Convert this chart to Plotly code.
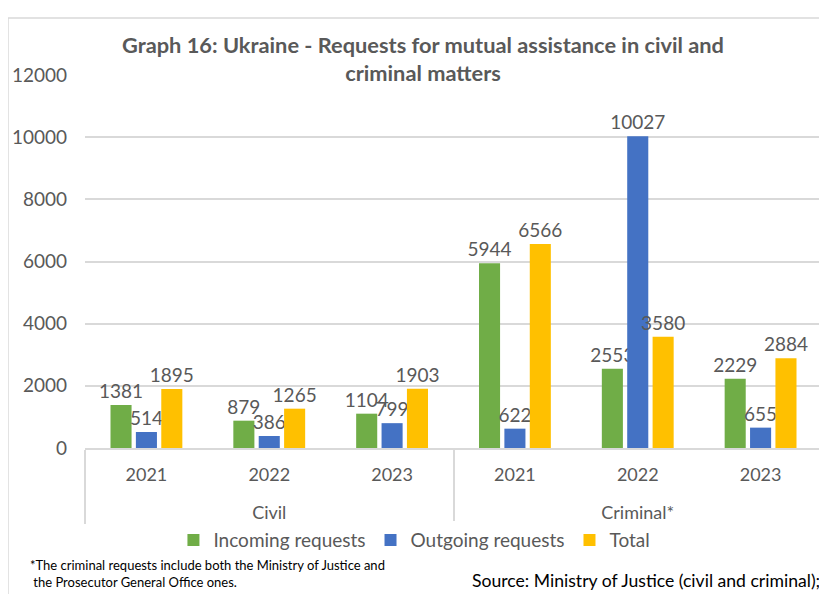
import plotly.graph_objects as go

groups = ["Civil", "Civil", "Civil", "Criminal*", "Criminal*", "Criminal*"]
years = ["2021", "2022", "2023", "2021", "2022", "2023"]
incoming = [1381, 879, 1104, 5944, 2553, 2229]
outgoing = [514, 386, 799, 622, 10027, 655]
total = [1895, 1265, 1903, 6566, 3580, 2884]

series = [
    ("Incoming requests", incoming, "#70AD47"),
    ("Outgoing requests", outgoing, "#4472C4"),
    ("Total", total, "#FFC000"),
]

FONT = "Lato"
GRAY = "#595959"

# group labels pushed down one line to mimic the spacing of the reference
group_labels = ["<br>" + g for g in groups]

fig = go.Figure()
for name, vals, color in series:
    fig.add_trace(go.Bar(
        x=[group_labels, years], y=vals, name=name,
        marker=dict(color=color, line=dict(width=0)),
        text=[str(v) for v in vals], textposition="outside",
        textfont=dict(family=FONT, size=19, color=GRAY),
        constraintext="none", cliponaxis=False,
    ))

fig.update_layout(
    width=819, height=586,
    margin=dict(l=77, r=5, t=67, b=146, autoexpand=False),
    paper_bgcolor="white", plot_bgcolor="white",
    barmode="group", bargap=0.38, bargroupgap=0.17,
    font=dict(family=FONT, size=19, color=GRAY),
    showlegend=True,
    legend=dict(orientation="h", x=0.447, xanchor="center", y=-0.247, yanchor="middle",
                font=dict(family=FONT, size=19, color=GRAY), traceorder="normal"),
    xaxis=dict(type="multicategory", showline=True, linecolor="#d9d9d9", linewidth=1.5,
               showdividers=True, dividercolor="#d9d9d9", dividerwidth=1.5,
               tickfont=dict(family=FONT, size=18, color=GRAY), ticks="",
               ticklabelstandoff=10),
    yaxis=dict(range=[0, 12000], dtick=2000, tickformat="d", showgrid=True,
               gridcolor="#d9d9d9", gridwidth=1.5,
               zeroline=False, tickfont=dict(family=FONT, size=19, color=GRAY), ticks="",
               ticklabelstandoff=17),
    annotations=[
        dict(text="<b>Graph 16: Ukraine - Requests for mutual assistance in civil and<br>criminal matters</b>",
             xref="paper", yref="paper", x=0.459, y=1.045, xanchor="center", yanchor="middle",
             showarrow=False, font=dict(family=FONT, size=21.8, color=GRAY)),
        dict(text="*The criminal requests include both the Ministry of Justice and<br> the Prosecutor General Office ones.",
             xref="paper", yref="paper", x=-0.077, y=-0.337, xanchor="left", yanchor="middle",
             align="left", showarrow=False, font=dict(family=FONT, size=13, color="black")),
        dict(text="Source: Ministry of Justice (civil and criminal);",
             xref="paper", yref="paper", x=1.0, y=-0.355, xanchor="right", yanchor="middle",
             showarrow=False, font=dict(family=FONT, size=17.6, color="black")),
    ],
    shapes=[
        dict(type="rect", xref="paper", yref="paper", x0=-0.1045, x1=1.006, y0=-0.42, y1=1.153,
             line=dict(color="#d9d9d9", width=1.5), fillcolor="rgba(0,0,0,0)", layer="below"),
    ],
)

fig.write_html("out.html")
